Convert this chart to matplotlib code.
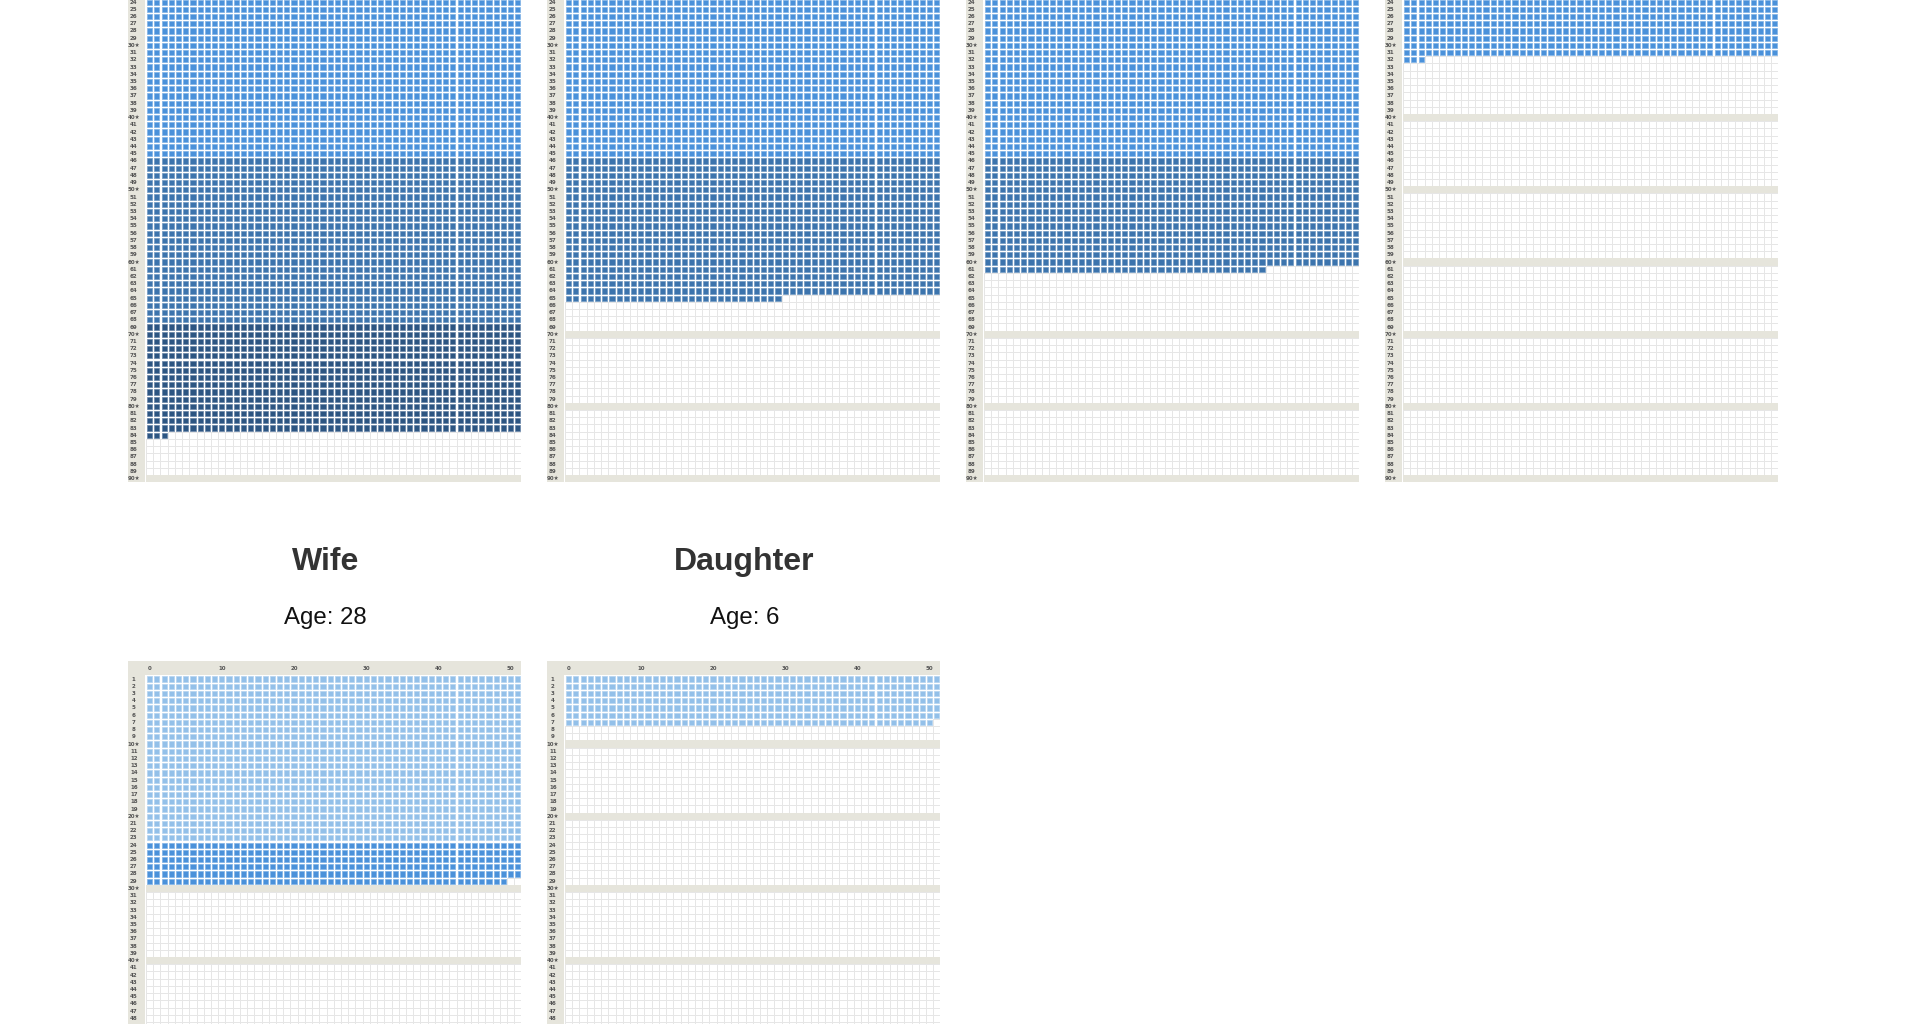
import numpy as np
import matplotlib.pyplot as plt
from matplotlib.patches import Rectangle
from matplotlib.collections import PatchCollection

plt.rcParams['font.family'] = ['Liberation Sans', 'DejaVu Sans']

# life in weeks: one row per year, one cell per week
titles      = ["", "", "", "", "Wife", "Daughter"]
subtitles   = ["", "", "", "", "Age: 28", "Age: 6"]
full_years  = [83, 64, 60, 31, 28, 6]     # rows completely filled
extra_weeks = [3, 30, 39, 3, 50, 51]      # weeks filled in the next row

n_years = 90
n_weeks = 52
col_ticks = [0, 10, 20, 30, 40, 50]

# life stages: first year of each stage
stage_start = [1, 24, 46, 69]
stage_face  = ["#93c0e9", "#4a91da", "#3c74ad", "#2c5582"]
stage_edge  = ["#b4d3f0", "#7fb2e6", "#7098c2", "#6683a6"]

band_col = "#e6e5dc"
grid_col = "#e6e6e6"

# page layout (pixels on the 1920x1024 page)
W_px, H_px = 1920, 1024
cell = 7.22
panel_left = [128, 547, 966, 1385, 128, 547]
panel_top  = [-182, -182, -182, -182, 661, 661]
lab_w = 2.5   # label column, in cells
head_h = 2.0  # header row, in cells
sq = 0.72     # square size inside a cell


def filled_in_row(r, full, extra):
    if r <= full:
        return n_weeks
    if r == full + 1:
        return extra
    return 0


def stage_of(r):
    return sum(r >= s for s in stage_start) - 1


fig = plt.figure(figsize=(W_px / 100, H_px / 100), dpi=100)

for i in range(len(full_years)):
    w = (n_weeks + lab_w) * cell
    h = (n_years + head_h) * cell
    L = panel_left[i]
    T = panel_top[i]
    ax = fig.add_axes([L / W_px, 1 - (T + h) / H_px, w / W_px, h / H_px])
    ax.set_xlim(-lab_w, n_weeks)
    ax.set_ylim(n_years, -head_h)
    ax.axis('off')

    # empty grid
    ax.vlines(np.arange(0, n_weeks + 1), 0, n_years, color=grid_col, lw=0.7, zorder=1)
    ax.hlines(np.arange(0, n_years + 1), 0, n_weeks, color=grid_col, lw=0.7, zorder=1)

    # header and label column
    ax.add_patch(Rectangle((-lab_w, -head_h), n_weeks + lab_w, head_h,
                           facecolor=band_col, edgecolor='none', zorder=2))
    ax.add_patch(Rectangle((-lab_w, -head_h), lab_w - 0.1, n_years + head_h,
                           facecolor=band_col, edgecolor='none', zorder=2))

    for r in range(1, n_years + 1):
        fc = filled_in_row(r, full_years[i], extra_weeks[i])
        # white under lived weeks, so the grid does not show between squares
        if fc > 0:
            ax.add_patch(Rectangle((0, r - 1), fc, 1, facecolor='white',
                                   edgecolor='none', zorder=2))
        # decade rows shaded where not yet lived
        if r % 10 == 0 and fc < n_weeks:
            ax.add_patch(Rectangle((fc, r - 1), n_weeks - fc, 1,
                                   facecolor=band_col, edgecolor='none', zorder=2))

    # lived weeks
    off = (1 - sq) / 2
    rects, faces, edges = [], [], []
    for r in range(1, n_years + 1):
        fc = filled_in_row(r, full_years[i], extra_weeks[i])
        s = stage_of(r)
        for c in range(fc):
            rects.append(Rectangle((c + off, r - 1 + off), sq, sq))
            faces.append(stage_face[s])
            edges.append(stage_edge[s])
    pc = PatchCollection(rects, facecolors=faces, edgecolors=edges, linewidths=0.5, zorder=3)
    ax.add_collection(pc)

    # row labels (only those that land on the page)
    for r in range(1, n_years + 1):
        y_px = T + (head_h + r - 0.5) * cell
        if y_px < 0 or y_px > H_px:
            continue
        lab = "%d★" % r if r % 10 == 0 else "%d" % r
        ax.text(-1.7, r - 0.5, lab, ha='center', va='center', fontsize=4,
                fontweight='bold', color='#555555', family=['DejaVu Sans'], zorder=4)
    # column labels
    if T + cell > 0:
        for c in col_ticks:
            ax.text(c + 0.5, -1.0, str(c), ha='center', va='center', fontsize=4,
                    fontweight='bold', color='#555555', family=['DejaVu Sans'], zorder=4)

    if titles[i]:
        xc = n_weeks / 2 - lab_w / 2 + 0.1
        ax.text(xc, -head_h - (661 - 562) / cell, titles[i],
                ha='center', va='center', fontsize=23, fontweight='bold',
                color='#333333', clip_on=False)
        ax.text(xc, -head_h - (661 - 618) / cell, subtitles[i],
                ha='center', va='center', fontsize=17.3, color='#111111', clip_on=False)

fig.savefig("out.png", dpi=100, facecolor='white')
